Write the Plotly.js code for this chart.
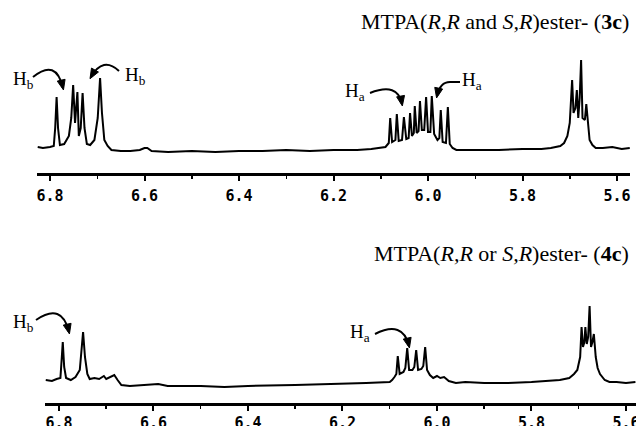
<!DOCTYPE html>
<html><head><meta charset="utf-8">
<script src="https://cdn.plot.ly/plotly-3.0.1.min.js"></script>
<style>html,body{margin:0;padding:0;background:#fff;}#chart{width:636px;height:426px;}</style>
</head><body><div id="chart"></div>
<script>
// ---------- data ----------
const tickVals = [6.8, 6.6, 6.4, 6.2, 6.0, 5.8, 5.6];
const tickText = ['6.8', '6.6', '6.4', '6.2', '6.0', '5.8', '5.6'];

// upper spectrum: MTPA(R,R and S,R) ester (3c)
const topPpm = [6.826,6.815,6.800,6.792,6.789,6.786,6.783,6.779,6.770,6.760,6.755,6.751,6.747,6.745,6.742,6.739,6.735,6.731,6.727,6.722,6.715,6.706,6.699,6.694,6.690,6.685,6.678,6.670,6.650,6.630,6.610,6.600,6.594,6.585,6.550,6.500,6.450,6.400,6.350,6.300,6.250,6.200,6.150,6.120,6.100,6.090,6.083,6.080,6.076,6.069,6.066,6.062,6.055,6.051,6.046,6.041,6.038,6.034,6.030,6.028,6.024,6.020,6.017,6.013,6.008,6.004,6.000,5.995,5.992,5.987,5.980,5.976,5.973,5.969,5.962,5.958,5.954,5.948,5.940,5.900,5.850,5.800,5.760,5.740,5.720,5.712,5.705,5.700,5.697,5.695,5.692,5.688,5.685,5.682,5.679,5.676,5.673,5.668,5.665,5.662,5.658,5.652,5.645,5.630,5.610,5.590,5.573];
const topInt = [1,0,1,2,20,51,20,3,4,12,30,63,25,35,56,12,20,55,20,4,3,8,30,70,35,8,2,-2,-3,-3,-2,0,0,-3,-4,-3,-4,-3,-3,-2,-3,-2,-2,-1,0,1,5,30,6,8,34,7,8,31,9,10,35,12,15,42,15,17,47,18,18,51,16,16,52,14,8,10,38,6,5,41,4,0,-2,-2,-2,-1,-1,0,2,5,12,25,50,68,35,40,58,30,50,88,30,28,44,25,8,3,0,0,1,-1,0];

// lower spectrum: MTPA(R,R or S,R) ester (4c)
const botPpm = [6.828,6.815,6.805,6.797,6.794,6.792,6.789,6.785,6.775,6.765,6.756,6.752,6.749,6.745,6.740,6.735,6.725,6.715,6.705,6.700,6.690,6.683,6.676,6.668,6.650,6.620,6.590,6.570,6.500,6.450,6.400,6.300,6.200,6.150,6.100,6.095,6.090,6.086,6.083,6.079,6.071,6.067,6.063,6.059,6.052,6.048,6.044,6.040,6.033,6.029,6.025,6.021,6.015,6.008,6.000,5.993,5.985,5.975,5.960,5.940,5.900,5.850,5.800,5.760,5.740,5.720,5.710,5.703,5.697,5.694,5.691,5.688,5.686,5.683,5.680,5.677,5.674,5.671,5.668,5.664,5.660,5.655,5.650,5.645,5.635,5.620,5.600,5.580];
const botInt = [2,1,3,4,25,40,15,4,2,5,12,30,50,25,8,3,4,3,6,3,5,7,2,-3,-4,-3,-2,-4,-4,-5,-4,-3,-2,-1,0,2,5,8,26,8,10,14,34,12,12,15,32,12,13,16,35,12,7,4,6,4,5,1,-1,0,-1,-1,0,1,2,4,8,12,25,55,35,40,55,38,45,76,35,40,48,25,14,8,5,2,0,0,-1,0];

const titleTop = 'MTPA(<i>R,R</i> and <i>S,R</i>)ester- (<b>3c</b>)';
const titleBot = 'MTPA(<i>R,R</i> or <i>S,R</i>)ester- (<b>4c</b>)';
const labelHb = 'H<sub>b</sub>';
const labelHa = 'H<sub>a</sub>';

// ---------- helpers (pixel -> paper) ----------
const W = 636, H = 426;
const px = x => x / W;
const py = y => 1 - y / H;

function curvedArrow(pts) {
  const n = pts.length;
  let d = 'M ' + px(pts[0][0]) + ' ' + py(pts[0][1]);
  for (let i = 1; i < n - 2; i++) d += ' L ' + px(pts[i][0]) + ' ' + py(pts[i][1]);
  const c = pts[n - 2], e = pts[n - 1];
  d += ' Q ' + px(c[0]) + ' ' + py(c[1]) + ' ' + px(e[0]) + ' ' + py(e[1]);
  const dx = e[0] - c[0], dy = e[1] - c[1];
  const len = Math.hypot(dx, dy);
  const ux = dx / len, uy = dy / len;
  const L = 8, hw = 4;
  const bx = e[0] - ux * L, by = e[1] - uy * L;
  const h1 = [bx - uy * hw, by + ux * hw], h2 = [bx + uy * hw, by - ux * hw];
  const tip = [e[0] + ux * 2, e[1] + uy * 2];
  const head = 'M ' + px(tip[0]) + ' ' + py(tip[1]) + ' L ' + px(h1[0]) + ' ' + py(h1[1]) +
               ' L ' + px(h2[0]) + ' ' + py(h2[1]) + ' Z';
  return [
    {type: 'path', xref: 'paper', yref: 'paper', path: d, line: {color: '#000', width: 2}},
    {type: 'path', xref: 'paper', yref: 'paper', path: head, fillcolor: '#000', line: {color: '#000', width: 1}}
  ];
}

const shapes = [].concat(
  curvedArrow([[33, 77], [56, 58], [63, 88]]),
  curvedArrow([[119, 71], [103, 56], [91, 77]]),
  curvedArrow([[370, 93], [398, 82], [402, 104]]),
  curvedArrow([[460, 82], [450, 82], [440, 82], [437, 96]]),
  curvedArrow([[36, 320], [62, 302], [69, 332]]),
  curvedArrow([[375, 334], [403, 320], [409, 346]])
);

const serif = 'Liberation Serif, Times New Roman, serif';
const hFont = {family: serif, size: 19, color: '#000'};
function lab(text, x, y) {
  return {text: text, xref: 'paper', yref: 'paper', x: px(x), y: py(y), xanchor: 'left', yanchor: 'middle',
          showarrow: false, font: hFont};
}
const annotations = [
  {text: titleTop, xref: 'paper', yref: 'paper', x: px(631), y: py(22), xanchor: 'right', yanchor: 'middle',
   showarrow: false, font: {family: serif, size: 22, color: '#000'}},
  {text: titleBot, xref: 'paper', yref: 'paper', x: px(631), y: py(254), xanchor: 'right', yanchor: 'middle',
   showarrow: false, font: {family: serif, size: 22, color: '#000'}},
  lab(labelHb, 11, 80),
  lab(labelHb, 123, 76),
  lab(labelHa, 343, 92),
  lab(labelHa, 460, 81),
  lab(labelHb, 11, 323),
  lab(labelHa, 348, 333)
];

const axisCommon = {
  showline: true, linecolor: '#000', linewidth: 2.5,
  ticks: 'outside', ticklen: 5, tickwidth: 2, tickcolor: '#000',
  tickvals: tickVals, ticktext: tickText,
  tickfont: {family: 'DejaVu Sans Mono, monospace', size: 15, weight: 'bold', color: '#000'},
  ticklabeloverflow: 'allow',
  showgrid: false, zeroline: false,
  minor: {dtick: 0.1, ticks: 'outside', ticklen: 3, tickwidth: 1.5, tickcolor: '#000', showgrid: false}
};

const traces = [
  {x: topPpm, y: topInt, xaxis: 'x', yaxis: 'y', type: 'scatter', mode: 'lines',
   line: {color: '#000', width: 2}, hoverinfo: 'skip'},
  {x: botPpm, y: botInt, xaxis: 'x2', yaxis: 'y2', type: 'scatter', mode: 'lines',
   line: {color: '#000', width: 2}, hoverinfo: 'skip'}
];

const layout = {
  width: W, height: H,
  margin: {l: 0, r: 0, t: 0, b: 0},
  paper_bgcolor: '#fff', plot_bgcolor: 'rgba(0,0,0,0)',
  showlegend: false,
  xaxis: Object.assign({}, axisCommon, {domain: [37 / W, 630 / W], range: [6.8275, 5.5725], anchor: 'y', ticklabelstandoff: 2}),
  yaxis: {domain: [py(173), py(40)], range: [-25, 108], visible: false, fixedrange: true},
  xaxis2: Object.assign({}, axisCommon, {domain: [45 / W, 1], range: [6.8296, 5.5788], anchor: 'y2', ticklabelstandoff: -1}),
  yaxis2: {domain: [py(403), py(280)], range: [-21, 102], visible: false, fixedrange: true},
  shapes: shapes,
  annotations: annotations
};

Plotly.newPlot('chart', traces, layout, {displayModeBar: false, staticPlot: true});
</script>
</body></html>
